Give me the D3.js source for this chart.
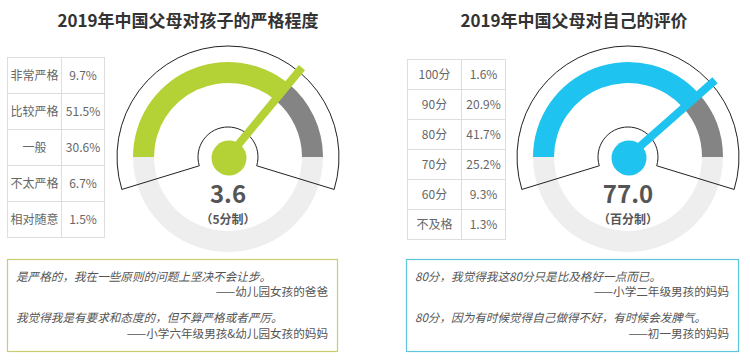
<!DOCTYPE html>
<html><head><meta charset="utf-8">
<script src="https://cdn.jsdelivr.net/npm/d3@7"></script>
<style>
html,body{margin:0;padding:0;background:#fff;}
svg{display:block;font-family:"Noto Sans CJK SC","Noto Sans",sans-serif;}
</style></head>
<body>
<svg id="chart" width="750" height="360"></svg>
<script>
// ---------- data ----------
const titles = ["2019年中国父母对孩子的严格程度", "2019年中国父母对自己的评价"];
const strictLabels = ["非常严格", "比较严格", "一般", "不太严格", "相对随意"];
const strictValues = ["9.7%", "51.5%", "30.6%", "6.7%", "1.5%"];
const selfLabels = ["100分", "90分", "80分", "70分", "60分", "不及格"];
const selfValues = ["1.6%", "20.9%", "41.7%", "25.2%", "9.3%", "1.3%"];
const gaugeValues = [3.6, 77.0];
const gaugeMax = [5, 100];
const gaugeText = ["3.6", "77.0"];
const gaugeUnits = ["（5分制）", "（百分制）"];
const quotesLeft = ["是严格的，我在一些原则的问题上坚决不会让步。", "——幼儿园女孩的爸爸",
                    "我觉得我是有要求和态度的，但不算严格或者严厉。", "——小学六年级男孩&幼儿园女孩的妈妈"];
const quotesRight = ["80分，我觉得我这80分只是比及格好一点而已。", "——小学二年级男孩的妈妈",
                     "80分，因为有时候觉得自己做得不好，有时候会发脾气。", "——初一男孩的妈妈"];

// ---------- styles ----------
const colors = ["#b4d235", "#1fc3ef"];
const boxColors = ["#c9cd6e", "#5ec5dd"];
const svg = d3.select("#chart");

// titles
svg.selectAll("text.title").data(titles).join("text")
  .attr("class","title")
  .attr("x",(d,i)=> i===0 ? 188 : 574).attr("y",27)
  .attr("text-anchor","middle").attr("font-size",17).attr("font-weight","bold")
  .attr("fill","#333").text(d=>d);

// tables
function drawTable(labels, values, x0, x1, x2, y0, rowH){
  const g = svg.append("g");
  const y = d3.scaleBand().domain(d3.range(labels.length)).range([y0, y0+rowH*labels.length]);
  const rows = g.selectAll("g").data(labels).join("g")
    .attr("transform",(d,i)=>`translate(0,${y(i)})`);
  rows.append("rect").attr("x",x0).attr("width",x2-x0).attr("height",y.bandwidth())
    .attr("fill","#fff").attr("stroke","#dedede").attr("stroke-width",1);
  rows.append("line").attr("x1",x1).attr("x2",x1).attr("y1",0).attr("y2",y.bandwidth())
    .attr("stroke","#dedede");
  rows.append("text").attr("x",(x0+x1)/2).attr("y",y.bandwidth()/2+4.5)
    .attr("text-anchor","middle").attr("font-size",12).attr("fill","#666").text(d=>d);
  rows.append("text").attr("x",(x1+x2)/2).attr("y",y.bandwidth()/2+4.5)
    .attr("text-anchor","middle").attr("font-size",12).attr("fill","#666")
    .text((d,i)=>values[i]);
}
drawTable(strictLabels, strictValues, 7.5, 61.5, 104.5, 57.5, 36);
drawTable(selfLabels, selfValues, 407.5, 461.5, 505.5, 59.5, 30);

// gauges
const centers = [[228,157],[628,157]];
gaugeValues.forEach((v,i)=>{
  const [cx,cy] = centers[i];
  const g = svg.append("g").attr("transform",`translate(${cx},${cy})`);
  const ang = d3.scaleLinear().domain([0,gaugeMax[i]]).range([-Math.PI/2, Math.PI/2]);
  const band = d3.arc().innerRadius(74).outerRadius(95);
  // light lower ring
  g.append("path").attr("d",band({startAngle:Math.PI/2,endAngle:Math.PI*1.5})).attr("fill","#eeeeee");
  // value arc
  g.append("path").attr("d",band({startAngle:ang(0),endAngle:ang(v)})).attr("fill",colors[i]);
  g.append("path").attr("d",band({startAngle:ang(v),endAngle:ang(gaugeMax[i])})).attr("fill","#848484");
  // outline
  const span = 107*Math.PI/180;
  g.append("path").attr("d",d3.arc().innerRadius(30).outerRadius(111)({startAngle:-span,endAngle:span}))
    .attr("fill","none").attr("stroke","#222").attr("stroke-width",1);
  // needle
  const a = ang(v);
  g.append("line").attr("x1",0).attr("y1",0)
    .attr("x2",116*Math.sin(a)).attr("y2",-116*Math.cos(a))
    .attr("stroke",colors[i]).attr("stroke-width",8);
  g.append("circle").attr("cx",1).attr("cy",1).attr("r",17.5).attr("fill",colors[i]);
  // value text
  g.append("text").attr("x",0).attr("y",46).attr("text-anchor","middle")
    .attr("font-size",24).attr("font-weight","bold").attr("fill","#555").text(gaugeText[i]);
  g.append("text").attr("x",0).attr("y",67).attr("text-anchor","middle")
    .attr("font-size",12).attr("font-weight","bold").attr("fill","#555").text(gaugeUnits[i]);
});

// quote boxes
function drawBox(lines, x0, x1, color, tx, rx){
  svg.append("rect").attr("x",x0+0.5).attr("y",259.5).attr("width",x1-x0).attr("height",92)
    .attr("fill","#fff").attr("stroke",color).attr("stroke-width",1.2);
  const ys = [281, 296, 322, 338];
  svg.selectAll(null).data(lines).join("text")
    .attr("x",(d,i)=> i%2===0 ? tx : rx)
    .attr("y",(d,i)=>ys[i])
    .attr("text-anchor",(d,i)=> i%2===0 ? "start" : "end")
    .attr("font-size",11.6)
    .attr("font-style",(d,i)=> i%2===0 ? "italic" : "normal")
    .attr("fill","#555").text(d=>d);
}
drawBox(quotesLeft, 7, 337, boxColors[0], 16, 328);
drawBox(quotesRight, 406, 738, boxColors[1], 415, 729);
</script>
</body></html>
